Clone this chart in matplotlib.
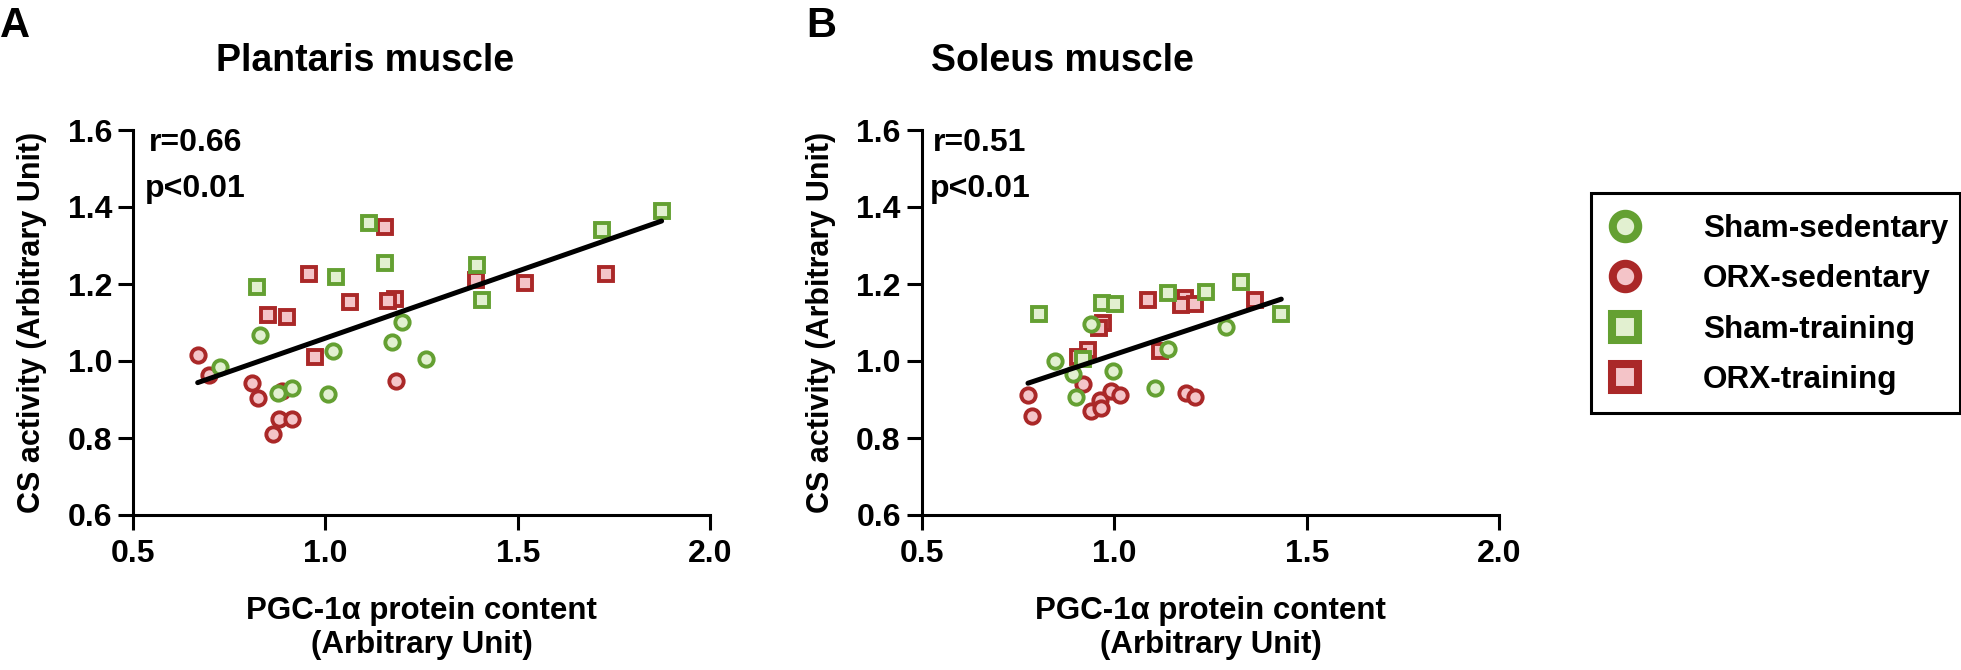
import numpy as np
import matplotlib
matplotlib.use("Agg")
import matplotlib.pyplot as plt
from matplotlib.lines import Line2D
from matplotlib.patches import Rectangle

plt.rcParams['font.family'] = ['Liberation Sans', 'DejaVu Sans']
plt.rcParams['font.weight'] = 'bold'

W, H = 1961, 670

# ---------------- data ----------------
groups = ["Sham-sedentary", "ORX-sedentary", "Sham-training", "ORX-training"]

# Panel A: Plantaris muscle
a_sham_sed_x = [0.726, 0.829, 0.877, 0.913, 1.007, 1.020, 1.174, 1.199, 1.262]
a_sham_sed_y = [0.984, 1.068, 0.918, 0.931, 0.913, 1.026, 1.050, 1.102, 1.005]
a_orx_sed_x = [0.668, 0.698, 0.810, 0.825, 0.888, 0.880, 0.913, 0.864, 1.182]
a_orx_sed_y = [1.016, 0.964, 0.942, 0.903, 0.923, 0.849, 0.849, 0.810, 0.949]
a_sham_tr_x = [0.822, 1.027, 1.112, 1.154, 1.394, 1.407, 1.719, 1.873]
a_sham_tr_y = [1.191, 1.219, 1.358, 1.254, 1.249, 1.158, 1.340, 1.390]
a_orx_tr_x = [1.154, 0.957, 0.851, 0.899, 1.063, 1.180, 1.163, 0.972, 1.392, 1.518, 1.729]
a_orx_tr_y = [1.347, 1.225, 1.119, 1.114, 1.154, 1.162, 1.156, 1.011, 1.210, 1.203, 1.225]

# Panel B: Soleus muscle
b_sham_sed_x = [0.847, 0.940, 0.894, 0.900, 0.996, 1.107, 1.140, 1.291]
b_sham_sed_y = [1.001, 1.095, 0.966, 0.906, 0.975, 0.929, 1.030, 1.089]
b_orx_sed_x = [0.776, 0.786, 0.920, 0.940, 0.964, 0.967, 0.992, 1.014, 1.187, 1.211]
b_orx_sed_y = [0.912, 0.858, 0.939, 0.871, 0.900, 0.877, 0.923, 0.912, 0.918, 0.907]
b_sham_tr_x = [0.805, 0.968, 1.001, 0.918, 1.141, 1.239, 1.330, 1.434]
b_sham_tr_y = [1.121, 1.151, 1.149, 1.004, 1.177, 1.180, 1.204, 1.121]
b_orx_tr_x = [1.089, 1.185, 1.174, 1.209, 1.367, 0.972, 0.961, 0.931, 0.907, 1.120]
b_orx_tr_y = [1.158, 1.164, 1.145, 1.149, 1.158, 1.098, 1.085, 1.029, 1.011, 1.026]

titles = ["Plantaris muscle", "Soleus muscle"]
panel_letters = ["A", "B"]
stats_r = ["r=0.66", "r=0.51"]
stats_p = ["p<0.01", "p<0.01"]
x_ticks = [0.5, 1.0, 1.5, 2.0]
y_ticks = [0.6, 0.8, 1.0, 1.2, 1.4, 1.6]
xlabel = "PGC-1\u03b1 protein content\n(Arbitrary Unit)"
ylabel = "CS activity (Arbitrary Unit)"

# ---------------- styles ----------------
GREEN_E, GREEN_F = "#64A032", "#E2F0D0"
RED_E, RED_F = "#AA2828", "#F4C4C8"
style = {
    "Sham-sedentary": dict(marker="o", mec=GREEN_E, mfc=GREEN_F, ms=10.3),
    "ORX-sedentary": dict(marker="o", mec=RED_E, mfc=RED_F, ms=10.3),
    "Sham-training": dict(marker="s", mec=GREEN_E, mfc=GREEN_F, ms=10.6),
    "ORX-training": dict(marker="s", mec=RED_E, mfc=RED_F, ms=10.6),
}
draw_order = ["ORX-training", "Sham-training", "ORX-sedentary", "Sham-sedentary"]

panels = [
    {"Sham-sedentary": (a_sham_sed_x, a_sham_sed_y), "ORX-sedentary": (a_orx_sed_x, a_orx_sed_y),
     "Sham-training": (a_sham_tr_x, a_sham_tr_y), "ORX-training": (a_orx_tr_x, a_orx_tr_y)},
    {"Sham-sedentary": (b_sham_sed_x, b_sham_sed_y), "ORX-sedentary": (b_orx_sed_x, b_orx_sed_y),
     "Sham-training": (b_sham_tr_x, b_sham_tr_y), "ORX-training": (b_orx_tr_x, b_orx_tr_y)},
]

def fx(px):
    return px / W

def fy(py):
    return 1 - py / H

fig = plt.figure(figsize=(W / 100, H / 100), dpi=100)

ax_lefts = [133, 921.7]
ax_w, ax_top, ax_bot = 577.5, 130, 515
title_x = [216, 931]
letter_x = [0, 806]
r_x = [149, 933]
p_x = [145, 930]
LW = 2.2

for i, data in enumerate(panels):
    ax = fig.add_axes([fx(ax_lefts[i]), fy(ax_bot), ax_w / W, (ax_bot - ax_top) / H])
    ax.set_xlim(0.5, 2.0)
    ax.set_ylim(0.6, 1.6)
    for k in draw_order:
        xs, ys = data[k]
        ax.plot(xs, ys, linestyle="none", mew=2.8, clip_on=False, zorder=3, **style[k])
    allx = np.concatenate([np.asarray(data[k][0]) for k in groups])
    ally = np.concatenate([np.asarray(data[k][1]) for k in groups])
    slope, icpt = np.polyfit(allx, ally, 1)
    xl = np.array([allx.min(), allx.max()])
    ax.plot(xl, slope * xl + icpt, color="black", lw=3.6, solid_capstyle="round", zorder=5)

    for s in ["top", "right"]:
        ax.spines[s].set_visible(False)
    for s in ["left", "bottom"]:
        ax.spines[s].set_linewidth(LW)
        ax.spines[s].set_capstyle("projecting")
    ax.set_xticks(x_ticks)
    ax.set_yticks(y_ticks)
    ax.set_xticklabels([f"{v:.1f}" for v in x_ticks])
    ax.set_yticklabels([f"{v:.1f}" for v in y_ticks])
    ax.tick_params(axis="both", direction="out", length=11, width=LW, labelsize=23, colors="black")
    ax.tick_params(axis="y", pad=4)
    ax.tick_params(axis="x", pad=6)
    for lab in ax.get_xticklabels() + ax.get_yticklabels():
        lab.set_fontweight("bold")

    fig.text(fx(ax_lefts[i] + ax_w / 2), fy(628), xlabel, ha="center", va="center",
             fontsize=22.5, fontweight="bold", linespacing=1.2)
    fig.text(fx(ax_lefts[i] - 101), fy(322), ylabel, ha="center", va="center",
             rotation=90, fontsize=22, fontweight="bold")
    fig.text(fx(title_x[i]), fy(71), titles[i], ha="left", va="baseline",
             fontsize=27, fontweight="bold")
    fig.text(fx(letter_x[i]), fy(6), panel_letters[i], ha="left", va="top",
             fontsize=30, fontweight="bold")
    fig.text(fx(r_x[i]), fy(151), stats_r[i], ha="left", va="baseline",
             fontsize=23, fontweight="bold")
    fig.text(fx(p_x[i]), fy(197), stats_p[i], ha="left", va="baseline",
             fontsize=23, fontweight="bold")

# legend (entries) + separate frame box
handles = []
for k in groups:
    st = dict(style[k])
    st["ms"] = 18.3 if st["marker"] == "o" else 18.7
    handles.append(Line2D([], [], linestyle="none", mew=5.8, **st))

leg_fs_px = 22.7 * 100 / 72
h_len = 1.0
leg = fig.legend(handles, groups, loc="upper left",
                 bbox_to_anchor=(fx(1625 - h_len * leg_fs_px / 2), fy(214)),
                 bbox_transform=fig.transFigure, borderaxespad=0, frameon=False,
                 prop=dict(size=22.7, weight="bold"), handlelength=h_len,
                 handletextpad=(1703 - (1625 - h_len * leg_fs_px / 2) - h_len * leg_fs_px) / leg_fs_px,
                 labelspacing=0.65, borderpad=0, markerscale=1)
fig.add_artist(Rectangle((fx(1591), fy(413)), (1960 - 1591) / W, (413 - 193) / H,
                         transform=fig.transFigure, fill=False, edgecolor="black",
                         linewidth=2.2, joinstyle="miter"))

fig.savefig("out.png", dpi=100)
